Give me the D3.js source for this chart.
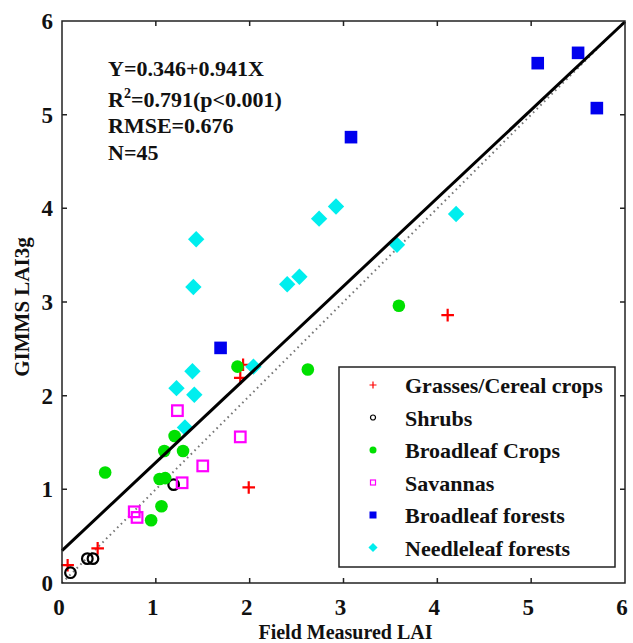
<!DOCTYPE html>
<html>
<head>
<meta charset="utf-8">
<script src="https://cdn.jsdelivr.net/npm/d3@7"></script>
<style>
  body { margin: 0; background: #fff; }
  text { font-family: "Liberation Serif", "Times New Roman", serif; font-weight: bold; fill: #111; }
</style>
</head>
<body>
<svg id="chart"></svg>
<script>
// field measured LAI (x) vs GIMMS LAI3g (y), per land cover type
const grasses = [[0.06, 0.19], [0.38, 0.37], [1.90, 2.19], [1.93, 2.33], [1.99, 1.02], [4.11, 2.86]];
const shrubs = [[0.09, 0.11], [0.27, 0.26], [0.33, 0.26], [1.19, 1.05]];
const broadleafCrops = [[0.46, 1.18], [0.95, 0.67], [1.06, 0.82], [1.04, 1.11], [1.10, 1.12], [1.09, 1.41],
  [1.29, 1.41], [1.20, 1.57], [1.87, 2.31], [2.62, 2.28], [3.59, 2.96]];
const savannas = [[0.77, 0.76], [0.80, 0.70], [1.28, 1.07], [1.50, 1.25], [1.23, 1.84], [1.90, 1.56]];
const broadleafForests = [[1.69, 2.51], [3.08, 4.76], [5.07, 5.55], [5.50, 5.66], [5.70, 5.07]];
const needleleafForests = [[1.43, 3.67], [1.40, 3.16], [2.40, 3.19], [2.53, 3.27], [2.74, 3.89], [2.92, 4.02],
  [3.57, 3.61], [4.20, 3.94], [2.04, 2.31], [1.39, 2.26], [1.22, 2.08], [1.41, 2.01], [1.31, 1.66]];
const ticks = [0, 1, 2, 3, 4, 5, 6];
const stats = ["Y=0.346+0.941X", "R2=0.791(p<0.001)", "RMSE=0.676", "N=45"];
const intercept = 0.346, slope = 0.941;

const series = [
  { name: "Grasses/Cereal crops", data: grasses, type: "plus", color: "#ff0000" },
  { name: "Shrubs", data: shrubs, type: "circle", color: "#000000" },
  { name: "Broadleaf Crops", data: broadleafCrops, type: "dot", color: "#00e000" },
  { name: "Savannas", data: savannas, type: "square", color: "#ff00ff" },
  { name: "Broadleaf forests", data: broadleafForests, type: "block", color: "#0000ee" },
  { name: "Needleleaf forests", data: needleleafForests, type: "diamond", color: "#00eeee" }
];

const width = 633, height = 643;
const margin = { top: 21, right: 8, bottom: 60, left: 62 };
const w = width - margin.left - margin.right;
const h = height - margin.top - margin.bottom;

const svg = d3.select("#chart").attr("width", width).attr("height", height);
const g = svg.append("g").attr("transform", `translate(${margin.left},${margin.top})`);

const x = d3.scaleLinear().domain([0, 6]).range([0, w]);
const y = d3.scaleLinear().domain([0, 6]).range([h, 0]);

// draws one marker centred on 0,0
function marker(sel, type, color, r) {
  const sw = r > 4 ? 2.2 : 1.2;
  if (type === "plus") {
    sel.append("path").attr("d", `M${-r},0H${r}M0,${-r}V${r}`)
      .attr("stroke", color).attr("stroke-width", sw).attr("fill", "none");
  } else if (type === "circle") {
    sel.append("circle").attr("r", r - 1).attr("fill", "none").attr("stroke", color).attr("stroke-width", sw);
  } else if (type === "dot") {
    sel.append("circle").attr("r", r).attr("fill", color);
  } else if (type === "square") {
    sel.append("rect").attr("x", -r + 1).attr("y", -r + 1).attr("width", 2 * r - 2).attr("height", 2 * r - 2)
      .attr("fill", "none").attr("stroke", color).attr("stroke-width", sw);
  } else if (type === "block") {
    sel.append("rect").attr("x", -r).attr("y", -r).attr("width", 2 * r).attr("height", 2 * r).attr("fill", color);
  } else if (type === "diamond") {
    const d = r * 1.3;
    sel.append("path").attr("d", `M0,${-d}L${d},0L0,${d}L${-d},0Z`).attr("fill", color);
  }
}

// 1:1 line
g.append("line")
  .attr("x1", x(0)).attr("y1", y(0)).attr("x2", x(6)).attr("y2", y(6))
  .attr("stroke", "#777").attr("stroke-width", 2).attr("stroke-dasharray", "1.6,3.6");

// points
series.forEach((s) => {
  g.append("g").selectAll("g")
    .data(s.data)
    .enter()
    .append("g")
    .attr("transform", (d) => `translate(${x(d[0])},${y(d[1])})`)
    .each(function () { marker(d3.select(this), s.type, s.color, 6.3); });
});

// regression line
const fit = (v) => intercept + slope * v;
g.append("line")
  .attr("x1", x(0)).attr("y1", y(fit(0))).attr("x2", x(6)).attr("y2", y(fit(6)))
  .attr("stroke", "#000").attr("stroke-width", 3);

// box + inward ticks on all four sides
g.append("rect").attr("width", w).attr("height", h)
  .attr("fill", "none").attr("stroke", "#222").attr("stroke-width", 1.5);

const tl = 5;
const inner = ticks.slice(1, -1);
g.append("g").selectAll("path").data(inner).enter().append("path")
  .attr("d", (d) => `M${x(d)},${h}v${-tl}M${x(d)},0v${tl}M0,${y(d)}h${tl}M${w},${y(d)}h${-tl}`)
  .attr("stroke", "#222").attr("stroke-width", 1.5);

// tick labels
g.append("g").selectAll("text").data(ticks).enter().append("text")
  .attr("x", (d) => x(d) - 3).attr("y", h + 32)
  .attr("text-anchor", "middle").attr("font-size", 23).text((d) => d);
g.append("g").selectAll("text").data(ticks).enter().append("text")
  .attr("x", -9).attr("y", (d) => y(d) + 8)
  .attr("text-anchor", "end").attr("font-size", 23).text((d) => d);

// axis titles
g.append("text").attr("x", w / 2 + 2).attr("y", h + 56)
  .attr("text-anchor", "middle").attr("font-size", 20).text("Field Measured LAI");
g.append("text").attr("transform", `translate(${-33},${h / 2 + 5}) rotate(-90)`)
  .attr("text-anchor", "middle").attr("font-size", 21).text("GIMMS LAI3g");

// statistics
const st = g.append("g").attr("transform", "translate(46,0)");
const lineY = [55, 86, 112, 139];
stats.forEach((t, i) => {
  const tx = st.append("text").attr("x", 0).attr("y", lineY[i]).attr("font-size", 22);
  if (t.startsWith("R2")) {
    tx.append("tspan").text("R");
    tx.append("tspan").attr("font-size", 14).attr("dy", -9).text("2");
    tx.append("tspan").attr("dy", 9).text(t.slice(2));
  } else {
    tx.text(t);
  }
});

// legend
const lg = g.append("g").attr("transform", `translate(${339 - margin.left},${367 - margin.top})`);
lg.append("rect").attr("width", 276).attr("height", 200)
  .attr("fill", "#fff").attr("stroke", "#222").attr("stroke-width", 1.5);
series.forEach((s, i) => {
  const row = lg.append("g").attr("transform", `translate(34,${18 + i * 32.5})`);
  marker(row, s.type, s.color, 3.5);
  row.append("text").attr("x", 32).attr("y", 8).attr("font-size", 22).text(s.name);
});
</script>
</body>
</html>
